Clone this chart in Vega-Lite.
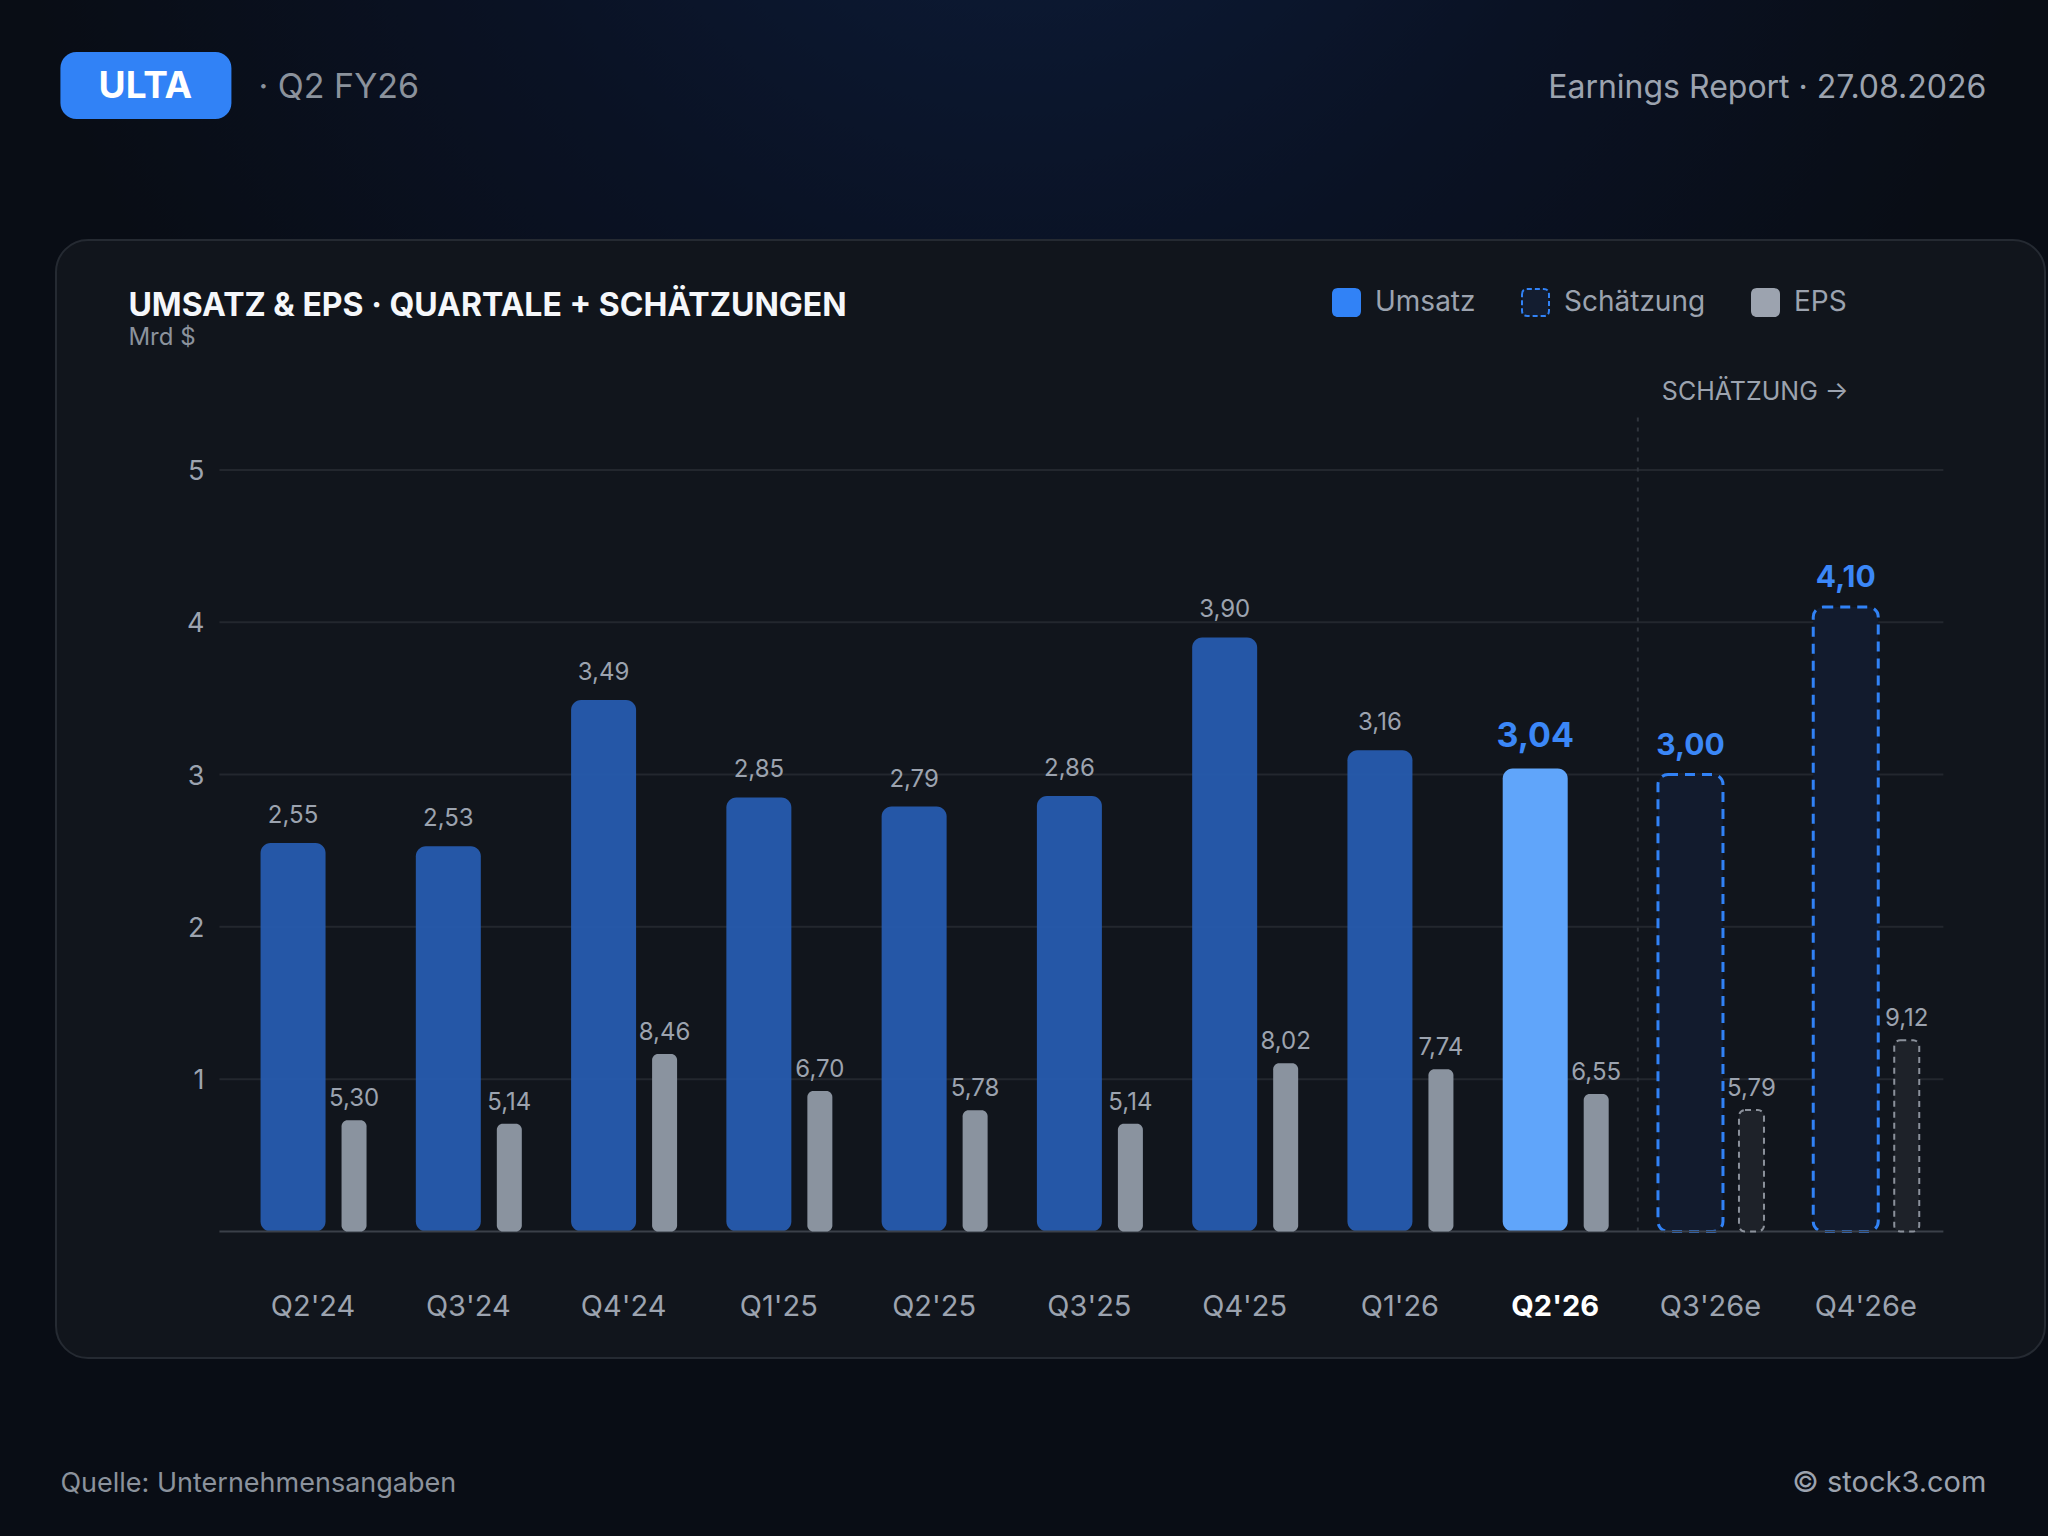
{
  "$schema": "https://vega.github.io/schema/vega-lite/v6.json",
  "width": 1989,
  "height": 1118,
  "autosize": {"type": "none"},
  "padding": {"left": 56, "top": 240, "right": 3, "bottom": 178},
  "background": "#090d15",
  "config": {
    "view": {"stroke": null},
    "font": "Inter",
    "locale": {"number": {"decimal": ",", "thousands": ".", "grouping": [3], "currency": ["", " €"]}}
  },
  "data": {
    "values": [
      {"q": "Q2'24", "umsatz": 2.55, "eps": 5.30, "status": "Ist"},
      {"q": "Q3'24", "umsatz": 2.53, "eps": 5.14, "status": "Ist"},
      {"q": "Q4'24", "umsatz": 3.49, "eps": 8.46, "status": "Ist"},
      {"q": "Q1'25", "umsatz": 2.85, "eps": 6.70, "status": "Ist"},
      {"q": "Q2'25", "umsatz": 2.79, "eps": 5.78, "status": "Ist"},
      {"q": "Q3'25", "umsatz": 2.86, "eps": 5.14, "status": "Ist"},
      {"q": "Q4'25", "umsatz": 3.90, "eps": 8.02, "status": "Ist"},
      {"q": "Q1'26", "umsatz": 3.16, "eps": 7.74, "status": "Ist"},
      {"q": "Q2'26", "umsatz": 3.04, "eps": 6.55, "status": "Aktuell"},
      {"q": "Q3'26e", "umsatz": 3.00, "eps": 5.79, "status": "Schätzung"},
      {"q": "Q4'26e", "umsatz": 4.10, "eps": 9.12, "status": "Schätzung"}
    ]
  },
  "resolve": {"scale": {"y": "independent"}},
  "layer": [
    {
      "layer": [
        {
          "data": {"values": [{}]},
          "mark": {
            "type": "rect",
            "xOffset": -240,
            "x2Offset": 110,
            "fill": {
              "gradient": "radial",
              "x1": 0.5, "y1": 0, "r1": 0,
              "x2": 0.5, "y2": 0, "r2": 0.5,
              "stops": [
                {"offset": 0, "color": "#0d1d3b"},
                {"offset": 0.55, "color": "#0a1224"},
                {"offset": 1, "color": "#090d15"}
              ]
            }
          },
          "encoding": {
            "x": {
              "datum": "Q2'24",
              "bandPosition": 0,
              "scale": {
                "type": "band",
                "domain": ["Q2'24", "Q3'24", "Q4'24", "Q1'25", "Q2'25", "Q3'25", "Q4'25", "Q1'26", "Q2'26", "Q3'26e", "Q4'26e"],
                "paddingInner": 0,
                "paddingOuter": 0.905,
                "align": 0.6384
              },
              "axis": null
            },
            "x2": {"datum": "Q4'26e", "bandPosition": 1},
            "y": {
              "datum": 8.2,
              "type": "quantitative",
              "scale": {"domain": [-0.831, 6.51], "nice": false, "zero": false},
              "axis": null
            },
            "y2": {"datum": -2.1}
          }
        },
        {
          "data": {"values": [{}]},
          "mark": {"type": "rect", "fill": "#11151c", "stroke": "#252a32", "strokeWidth": 2, "cornerRadius": 32},
          "encoding": {}
        },
        {
          "data": {"values": [{}]},
          "mark": {"type": "rect", "fill": "#3182f6", "cornerRadius": 16, "xOffset": -175, "x2Offset": -4},
          "encoding": {
            "x": {"datum": "Q2'24", "bandPosition": 0, "axis": null},
            "x2": {"datum": "Q2'24", "bandPosition": 0},
            "y": {"datum": 7.745, "type": "quantitative", "axis": null},
            "y2": {"datum": 7.305}
          }
        },
        {
          "data": {"values": [{}]},
          "mark": {"type": "text", "text": "ULTA", "fontSize": 37, "fontWeight": "bold", "color": "#ffffff", "align": "center", "baseline": "alphabetic", "dx": -90},
          "encoding": {
            "x": {"datum": "Q2'24", "bandPosition": 0, "axis": null},
            "y": {"datum": 7.443, "type": "quantitative", "axis": null}
          }
        },
        {
          "data": {"values": [{}]},
          "mark": {"type": "text", "text": "· Q2 FY26", "fontSize": 34, "color": "#8b929c", "align": "left", "baseline": "alphabetic", "dx": 23},
          "encoding": {
            "x": {"datum": "Q2'24", "bandPosition": 0, "axis": null},
            "y": {"datum": 7.443, "type": "quantitative", "axis": null}
          }
        },
        {
          "data": {"values": [{}]},
          "mark": {"type": "text", "text": "Earnings Report · 27.08.2026", "fontSize": 32, "color": "#9ca3af", "align": "right", "baseline": "alphabetic", "dx": 43},
          "encoding": {
            "x": {"datum": "Q4'26e", "bandPosition": 1, "axis": null},
            "y": {"datum": 7.443, "type": "quantitative", "axis": null}
          }
        },
        {
          "data": {"values": [{}]},
          "mark": {"type": "text", "text": "UMSATZ & EPS · QUARTALE + SCHÄTZUNGEN", "fontSize": 32, "fontWeight": "bold", "color": "#f5f7fa", "align": "left", "baseline": "alphabetic", "dx": -107},
          "encoding": {
            "x": {"datum": "Q2'24", "bandPosition": 0, "axis": null},
            "y": {"datum": 6.011, "type": "quantitative", "axis": null}
          }
        },
        {
          "data": {"values": [{}]},
          "mark": {"type": "text", "text": "Mrd $", "fontSize": 24, "color": "#8b929c", "align": "left", "baseline": "alphabetic", "dx": -107},
          "encoding": {
            "x": {"datum": "Q2'24", "bandPosition": 0, "axis": null},
            "y": {"datum": 5.82, "type": "quantitative", "axis": null}
          }
        },
        {
          "data": {"values": [{}]},
          "mark": {"type": "text", "text": "SCHÄTZUNG →", "fontSize": 25, "color": "#9ca3af", "align": "left", "baseline": "alphabetic", "dx": 29},
          "encoding": {
            "x": {"datum": "Q3'26e", "bandPosition": 0, "axis": null},
            "y": {"datum": 5.46, "type": "quantitative", "axis": null}
          }
        },
        {
          "data": {"values": [{}]},
          "mark": {"type": "text", "text": "Quelle: Unternehmensangaben", "fontSize": 27, "color": "#8b929c", "align": "left", "baseline": "alphabetic", "dx": -175},
          "encoding": {
            "x": {"datum": "Q2'24", "bandPosition": 0, "axis": null},
            "y": {"datum": -1.71, "type": "quantitative", "axis": null}
          }
        },
        {
          "data": {"values": [{}]},
          "mark": {"type": "text", "text": "© stock3.com", "fontSize": 29, "color": "#9ca3af", "align": "right", "baseline": "alphabetic", "dx": 43},
          "encoding": {
            "x": {"datum": "Q4'26e", "bandPosition": 1, "axis": null},
            "y": {"datum": -1.71, "type": "quantitative", "axis": null}
          }
        },
        {
          "data": {"values": [{"g": 1}, {"g": 2}, {"g": 3}, {"g": 4}, {"g": 5}]},
          "layer": [
            {
              "mark": {"type": "rule", "color": "#23272e", "strokeWidth": 2, "xOffset": -16},
              "encoding": {
                "x": {"datum": "Q2'24", "bandPosition": 0, "axis": null},
                "x2": {"datum": "Q4'26e", "bandPosition": 1},
                "y": {"field": "g", "type": "quantitative", "axis": null}
              }
            },
            {
              "mark": {"type": "text", "fontSize": 27, "color": "#9ca3af", "align": "right", "baseline": "alphabetic", "dx": -31, "dy": 10},
              "encoding": {
                "x": {"datum": "Q2'24", "bandPosition": 0, "axis": null},
                "y": {"field": "g", "type": "quantitative", "axis": null},
                "text": {"field": "g", "type": "quantitative"}
              }
            }
          ]
        },
        {
          "data": {"values": [{}]},
          "mark": {"type": "rule", "color": "#30353d", "strokeWidth": 2, "strokeDash": [4, 6], "xOffset": 5},
          "encoding": {
            "x": {"datum": "Q3'26e", "bandPosition": 0, "axis": null},
            "y": {"datum": 0, "type": "quantitative", "axis": null},
            "y2": {"datum": 5.38}
          }
        },
        {
          "transform": [{"filter": {"field": "status", "equal": "Ist"}}],
          "mark": {"type": "bar", "width": 65, "xOffset": -20, "cornerRadius": 10, "fill": "#275cb2", "opacity": 0.93},
          "encoding": {
            "x": {"field": "q", "type": "nominal", "axis": null},
            "y": {"field": "umsatz", "type": "quantitative", "axis": null},
            "y2": {"datum": 0}
          }
        },
        {
          "transform": [{"filter": {"field": "status", "equal": "Aktuell"}}],
          "mark": {"type": "bar", "width": 65, "xOffset": -20, "cornerRadius": 10, "fill": "#60a5fa"},
          "encoding": {
            "x": {"field": "q", "type": "nominal", "axis": null},
            "y": {"field": "umsatz", "type": "quantitative", "axis": null},
            "y2": {"datum": 0}
          }
        },
        {
          "transform": [{"filter": {"field": "status", "equal": "Schätzung"}}],
          "mark": {"type": "bar", "width": 65, "xOffset": -20, "cornerRadius": 10, "fill": "#121b2d", "stroke": "#3182f6", "strokeWidth": 3, "strokeDash": [10, 7]},
          "encoding": {
            "x": {"field": "q", "type": "nominal", "axis": null},
            "y": {"field": "umsatz", "type": "quantitative", "axis": null},
            "y2": {"datum": 0}
          }
        },
        {
          "data": {"values": [{}]},
          "mark": {"type": "rule", "color": "#3b4049", "strokeWidth": 2, "xOffset": -16},
          "encoding": {
            "x": {"datum": "Q2'24", "bandPosition": 0, "axis": null},
            "x2": {"datum": "Q4'26e", "bandPosition": 1},
            "y": {"datum": 0, "type": "quantitative", "axis": null}
          }
        },
        {
          "transform": [{"filter": {"field": "status", "equal": "Ist"}}],
          "mark": {"type": "text", "dx": -20, "dy": -20, "baseline": "alphabetic", "fontSize": 24, "color": "#9ca3af"},
          "encoding": {
            "x": {"field": "q", "type": "nominal", "axis": null},
            "y": {"field": "umsatz", "type": "quantitative", "axis": null},
            "text": {"field": "umsatz", "type": "quantitative", "format": ".2f"}
          }
        },
        {
          "transform": [{"filter": {"field": "status", "equal": "Aktuell"}}],
          "mark": {"type": "text", "dx": -20, "dy": -21, "baseline": "alphabetic", "fontSize": 34, "fontWeight": "bold", "color": "#3b87f7"},
          "encoding": {
            "x": {"field": "q", "type": "nominal", "axis": null},
            "y": {"field": "umsatz", "type": "quantitative", "axis": null},
            "text": {"field": "umsatz", "type": "quantitative", "format": ".2f"}
          }
        },
        {
          "transform": [{"filter": {"field": "status", "equal": "Schätzung"}}],
          "mark": {"type": "text", "dx": -20, "dy": -20, "baseline": "alphabetic", "fontSize": 30, "fontWeight": "bold", "color": "#3b87f7"},
          "encoding": {
            "x": {"field": "q", "type": "nominal", "axis": null},
            "y": {"field": "umsatz", "type": "quantitative", "axis": null},
            "text": {"field": "umsatz", "type": "quantitative", "format": ".2f"}
          }
        },
        {
          "transform": [{"filter": {"field": "status", "oneOf": ["Ist", "Schätzung"]}}],
          "mark": {"type": "text", "baseline": "alphabetic", "fontSize": 29, "color": "#9ca3af"},
          "encoding": {
            "x": {"field": "q", "type": "nominal", "axis": null},
            "y": {"datum": -0.555, "type": "quantitative", "axis": null},
            "text": {"field": "q", "type": "nominal"}
          }
        },
        {
          "transform": [{"filter": {"field": "status", "equal": "Aktuell"}}],
          "mark": {"type": "text", "baseline": "alphabetic", "fontSize": 29, "fontWeight": "bold", "color": "#ffffff"},
          "encoding": {
            "x": {"field": "q", "type": "nominal", "axis": null},
            "y": {"datum": -0.555, "type": "quantitative", "axis": null},
            "text": {"field": "q", "type": "nominal"}
          }
        },
        {
          "data": {"values": [{"k": "Umsatz"}, {"k": "Schätzung"}, {"k": "EPS"}]},
          "mark": {"type": "square", "clip": true, "filled": true, "opacity": 1},
          "encoding": {
            "x": {"datum": "Q2'24", "axis": null},
            "y": {"datum": -50, "type": "quantitative", "axis": null},
            "fill": {
              "field": "k",
              "type": "nominal",
              "scale": {"domain": ["Umsatz", "Schätzung", "EPS"], "range": ["#3182f6", "#131d30", "#9ca3af"]},
              "legend": {
                "title": null,
                "orient": "none",
                "legendX": 1276,
                "legendY": 48,
                "direction": "horizontal",
                "columns": 3,
                "symbolType": "M-1,-0.6Q-1,-1,-0.6,-1L0.6,-1Q1,-1,1,-0.6L1,0.6Q1,1,0.6,1L-0.6,1Q-1,1,-1,0.6Z",
                "symbolSize": 729,
                "symbolStrokeWidth": 2,
                "labelFont": "Inter",
                "labelFontSize": 28,
                "labelColor": "#9ca3af",
                "labelOffset": 14,
                "columnPadding": 42,
                "padding": 0
              }
            },
            "stroke": {
              "field": "k",
              "type": "nominal",
              "scale": {"domain": ["Umsatz", "Schätzung", "EPS"], "range": ["#3182f6", "#3182f6", "#9ca3af"]},
              "legend": {
                "title": null,
                "orient": "none",
                "legendX": 1276,
                "legendY": 48,
                "direction": "horizontal",
                "columns": 3,
                "symbolType": "M-1,-0.6Q-1,-1,-0.6,-1L0.6,-1Q1,-1,1,-0.6L1,0.6Q1,1,0.6,1L-0.6,1Q-1,1,-1,0.6Z",
                "symbolSize": 729,
                "symbolStrokeWidth": 2,
                "labelFont": "Inter",
                "labelFontSize": 28,
                "labelColor": "#9ca3af",
                "labelOffset": 14,
                "columnPadding": 42,
                "padding": 0
              }
            },
            "strokeDash": {
              "field": "k",
              "type": "nominal",
              "scale": {"domain": ["Umsatz", "Schätzung", "EPS"], "range": [[1, 0], [5, 3], [1, 0]]},
              "legend": {
                "title": null,
                "orient": "none",
                "legendX": 1276,
                "legendY": 48,
                "direction": "horizontal",
                "columns": 3,
                "symbolType": "M-1,-0.6Q-1,-1,-0.6,-1L0.6,-1Q1,-1,1,-0.6L1,0.6Q1,1,0.6,1L-0.6,1Q-1,1,-1,0.6Z",
                "symbolSize": 729,
                "symbolStrokeWidth": 2,
                "labelFont": "Inter",
                "labelFontSize": 28,
                "labelColor": "#9ca3af",
                "labelOffset": 14,
                "columnPadding": 42,
                "padding": 0
              }
            }
          }
        }
      ]
    },
    {
      "layer": [
        {
          "transform": [{"filter": {"field": "status", "oneOf": ["Ist", "Aktuell"]}}],
          "mark": {"type": "bar", "width": 25, "xOffset": 41, "cornerRadius": 6, "fill": "#8a939f"},
          "encoding": {
            "x": {"field": "q", "type": "nominal", "axis": null},
            "y": {
              "field": "eps",
              "type": "quantitative",
              "scale": {"domain": [-6.04, 47.3], "nice": false, "zero": false},
              "axis": null
            },
            "y2": {"datum": 0}
          }
        },
        {
          "transform": [{"filter": {"field": "status", "equal": "Schätzung"}}],
          "mark": {"type": "bar", "width": 25, "xOffset": 41, "cornerRadius": 6, "fill": "#1e2229", "stroke": "#8b919b", "strokeWidth": 2, "strokeDash": [6, 5]},
          "encoding": {
            "x": {"field": "q", "type": "nominal", "axis": null},
            "y": {"field": "eps", "type": "quantitative", "axis": null},
            "y2": {"datum": 0}
          }
        },
        {
          "mark": {"type": "text", "dx": 41, "dy": -14, "baseline": "alphabetic", "fontSize": 24, "color": "#9ca3af"},
          "encoding": {
            "x": {"field": "q", "type": "nominal", "axis": null},
            "y": {"field": "eps", "type": "quantitative", "axis": null},
            "text": {"field": "eps", "type": "quantitative", "format": ".2f"}
          }
        }
      ]
    }
  ]
}
